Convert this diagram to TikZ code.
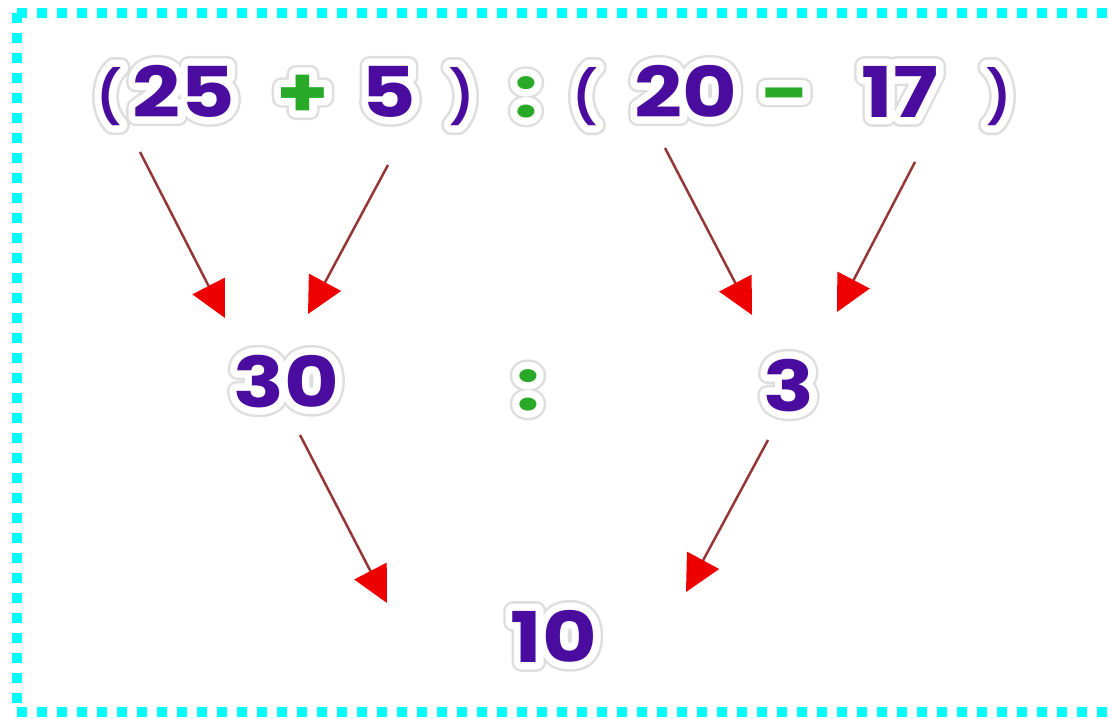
\documentclass[tikz,border=0pt]{standalone}
\usepackage{fontspec}
\usetikzlibrary{arrows.meta}
\newfontfamily\tokfont{Poppins Bold}[FakeStretch=1.2]
\newfontfamily\haloout{Poppins Bold}[FakeStretch=1.2,FakeBold=28]
\newfontfamily\haloin{Poppins Bold}[FakeStretch=1.2,FakeBold=21]
\newfontfamily\parfont{Poppins SemiBold}
\newfontfamily\parhaloout{Poppins SemiBold}[FakeBold=38]
\newfontfamily\parhaloin{Poppins SemiBold}[FakeBold=28]
\definecolor{numpurple}{RGB}{74,12,158}
\definecolor{opgreen}{RGB}{40,170,40}
\definecolor{bordercyan}{RGB}{0,255,255}
\definecolor{headred}{RGB}{238,0,0}
\definecolor{shaftred}{RGB}{150,55,55}
\definecolor{halogray}{RGB}{222,222,222}
\tikzset{
  tokstyle/.style={anchor=base, inner sep=0pt, font=\tokfont\fontsize{70}{70}\selectfont},
  haloA/.style={anchor=base, inner sep=0pt, text=halogray, font=\haloout\fontsize{70}{70}\selectfont},
  haloB/.style={anchor=base, inner sep=0pt, text=white, font=\haloin\fontsize{70}{70}\selectfont},
  partok/.style={anchor=base, inner sep=0pt, font=\parfont\fontsize{52}{52}\selectfont},
  parhaloA/.style={anchor=base, inner sep=0pt, text=halogray, font=\parhaloout\fontsize{52}{52}\selectfont},
  parhaloB/.style={anchor=base, inner sep=0pt, text=white, font=\parhaloin\fontsize{52}{52}\selectfont},
  arr/.style={draw=shaftred, line width=2.5pt,
    -{Triangle[length=36pt,width=36pt,color=headred,fill=headred]}},
  framebox/.style={draw=bordercyan, line width=10pt, dash pattern=on 10pt off 10pt}
}
% name, x, baseline y, colour, text
\newcommand\token[5]{%
  \node[haloA] at (#2,#3) {#5};
  \node[haloB] at (#2,#3) {#5};
  \node[tokstyle, text=#4] (#1) at (#2,#3) {#5};
}
\newcommand\ptoken[4]{%
  \node[parhaloA] at (#2,#3) {#4};
  \node[parhaloB] at (#2,#3) {#4};
  \node[partok, text=numpurple] (#1) at (#2,#3) {#4};
}
\begin{document}
\begin{tikzpicture}[x=1pt,y=-1pt,line join=round]
\useasboundingbox (0,0) rectangle (1109,718);
\begin{scope}
\clip (0,0) rectangle (1109,718);
\draw[framebox] (17,12.5) -- (1140,12.5);
\draw[framebox] (17,12.5) -- (17,712);
\draw[framebox] (17,712) -- (1140,712);
\end{scope}
% top row
\ptoken{p1}{109}{115}{(}
\token{n25}{184}{117}{numpurple}{25}
\token{plus}{303}{117}{opgreen}{+}
\token{n5}{389}{117}{numpurple}{5}
\ptoken{p2}{462}{115}{)}
\token{div1}{526}{117}{opgreen}{:}
\ptoken{p3}{585}{115}{(}
\token{n20}{686}{117}{numpurple}{20}
\token{minus}{786}{117}{opgreen}{-}
\token{n17}{900}{117}{numpurple}{17}
\ptoken{p4}{999}{115}{)}
% middle row
\token{n30}{286}{407}{numpurple}{30}
\token{div2}{528}{410}{opgreen}{:}
\token{n3}{789}{411}{numpurple}{3}
% bottom
\token{n10}{554}{662}{numpurple}{10}
% arrows
\coordinate (s1) at (140,152); \coordinate (e1) at (225,318);
\coordinate (s2) at (388,165); \coordinate (e2) at (308,314);
\coordinate (s3) at (665,148); \coordinate (e3) at (752,315);
\coordinate (s4) at (915,162); \coordinate (e4) at (837,312);
\coordinate (s5) at (300,435); \coordinate (e5) at (387,603);
\coordinate (s6) at (768,440); \coordinate (e6) at (686,592);
\draw[arr] (s1) -- (e1);
\draw[arr] (s2) -- (e2);
\draw[arr] (s3) -- (e3);
\draw[arr] (s4) -- (e4);
\draw[arr] (s5) -- (e5);
\draw[arr] (s6) -- (e6);
\end{tikzpicture}
\end{document}
